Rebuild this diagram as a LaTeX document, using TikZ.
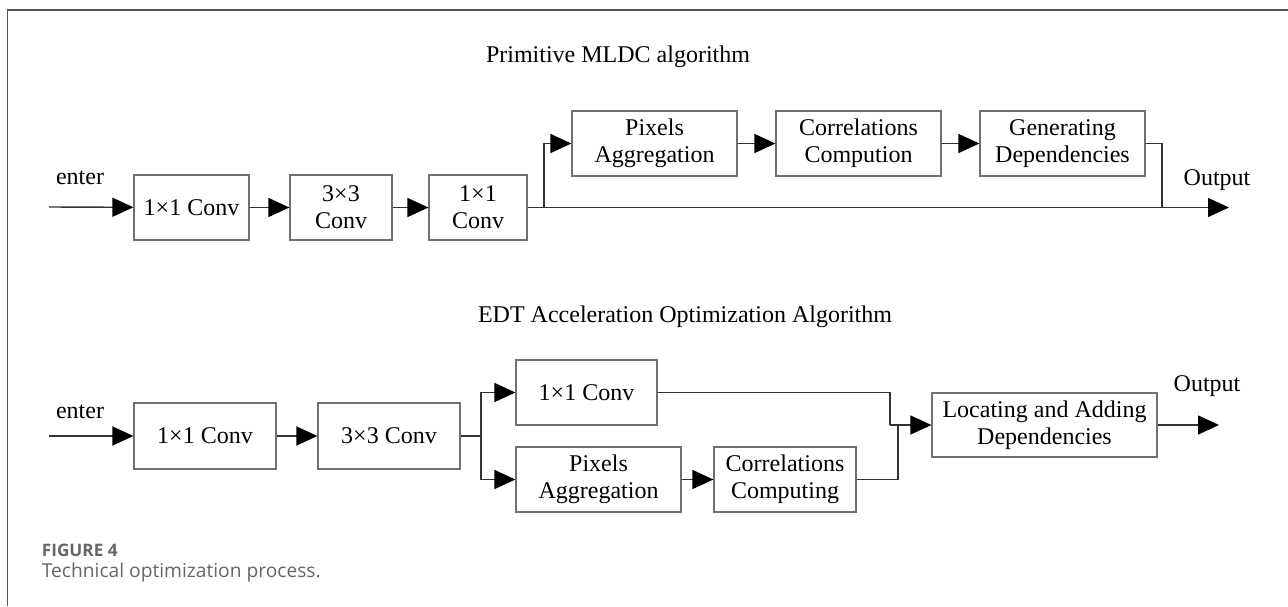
\documentclass[tikz,border=0pt]{standalone}
\usepackage{fontspec}
\setmainfont{Liberation Serif}
\newfontfamily\capfont{Open Sans}
\usetikzlibrary{arrows.meta}
\definecolor{linec}{HTML}{333333}
\definecolor{boxc}{HTML}{707070}
\definecolor{framec}{HTML}{555555}
\definecolor{capc}{HTML}{666666}
\begin{document}
\begin{tikzpicture}[x=0.5pt,y=-0.5pt,
  box/.style={draw=boxc, line width=0.6pt, minimum height=32.5pt, inner sep=0pt, align=center, font=\fontsize{12}{13.6}\selectfont},
  lbl/.style={inner sep=0pt, font=\fontsize{12}{13.6}\selectfont},
  wire/.style={draw=linec, line width=0.7pt},
  arr/.style={wire, -{Triangle[length=10.5pt,width=9.5pt,color=black]}}]
\useasboundingbox (0,0) rectangle (1288,606);
\draw[draw=framec, line width=0.7pt] (7.5,606) -- (7.5,10) -- (1288,10);
% top row
\node[lbl] (t1) at (618,57) {Primitive MLDC algorithm};
\node[lbl] (e1) at (80,178) {enter};
\coordinate (i1) at (49,207);
\node[box, minimum width=57.5pt] (b1) at (191.5,207.5) {1×1 Conv};
\node[box, minimum width=51pt] (b2) at (341,207.5) {3×3\\Conv};
\node[box, minimum width=49pt] (b3) at (478,207.5) {1×1\\Conv};
\node[box, minimum width=82.5pt] (p1) at (654.5,143.5) {Pixels\\Aggregation};
\node[box, minimum width=82.5pt] (c1) at (858.5,143.5) {Correlations\\Compution};
\node[box, minimum width=82.5pt] (g1) at (1062.5,143.5) {Generating\\Dependencies};
\coordinate (s1) at (544,207.5);
\coordinate (j1) at (1162,207.5);
\coordinate (o1) at (1229,207.5);
\node[lbl] (ol1) at (1217,180) {Output};
\draw[arr] (i1) -- (b1);
\draw[arr] (b1) -- (b2);
\draw[arr] (b2) -- (b3);
\draw[wire] (b3.east) -- (s1);
\draw[arr] (s1) |- (p1.west);
\draw[arr] (p1) -- (c1);
\draw[arr] (c1) -- (g1);
\draw[wire] (g1.east) -| (j1);
\draw[arr] (s1) -- (o1);
% bottom row
\node[lbl] (t2) at (685,317) {EDT Acceleration Optimization Algorithm};
\node[lbl] (e2) at (80,412) {enter};
\coordinate (i2) at (49,436);
\node[box, minimum width=71pt, minimum height=33pt] (A) at (205,436) {1×1 Conv};
\node[box, minimum width=71pt, minimum height=33pt] (B) at (389,436) {3×3 Conv};
\node[box, minimum width=70.5pt] (C) at (586.5,392.5) {1×1 Conv};
\node[box, minimum width=82.5pt] (D) at (598.5,479.5) {Pixels\\Aggregation};
\node[box, minimum width=71pt] (E) at (785,479.5) {Correlations\\Computing};
\node[box, minimum width=112.5pt, minimum height=32pt] (F) at (1044.5,425) {Locating and Adding\\Dependencies};
\coordinate (s2) at (481,436);
\coordinate (j2) at (890,425);
\coordinate (j3) at (898,425);
\coordinate (o2) at (1219,425);
\node[lbl] (ol2) at (1207,386) {Output};
\draw[arr] (i2) -- (A);
\draw[arr] (A) -- (B);
\draw[wire] (B.east) -- (s2);
\draw[arr] (s2) |- (C.west);
\draw[arr] (s2) |- (D.west);
\draw[arr] (D) -- (E);
\draw[wire] (C.east) -| (j2);
\draw[wire] (E.east) -| (j3);
\draw[arr] (j2) -- (F.west);
\draw[arr] (F.east) -- (o2);
% caption
\node[anchor=west, inner sep=0pt, text=capc, font=\capfont\bfseries\fontsize{8.6}{10}\selectfont] (fig) at (41.5,550) {FIGURE 4};
\node[anchor=west, inner sep=0pt, text=capc, font=\capfont\fontsize{9.6}{11}\selectfont] (cap) at (41.5,572) {Technical optimization process.};
\end{tikzpicture}
\end{document}
